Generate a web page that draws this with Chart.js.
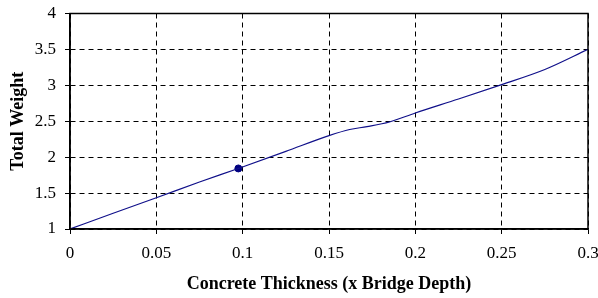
<!DOCTYPE html>
<html>
<head>
<meta charset="utf-8">
<script src="https://cdn.jsdelivr.net/npm/chart.js@4"></script>
<style>
  html, body { margin: 0; padding: 0; background: #fff; }
  #wrap { width: 598px; height: 298px; }
</style>
</head>
<body>
<div id="wrap"><canvas id="chart"></canvas></div>
<script>
// concrete thickness (x bridge depth) vs total weight
var thickness = [0, 0.025, 0.05, 0.075, 0.0975, 0.125, 0.15, 0.162, 0.172, 0.185, 0.2, 0.225, 0.25, 0.275, 0.3];
var weight = [1.0, 1.22, 1.435, 1.655, 1.843, 2.08, 2.30, 2.385, 2.425, 2.49, 2.615, 2.81, 3.01, 3.22, 3.5];

// highlighted point
var markX = [0.0975];
var markY = [1.843];

var xTicks = [0, 0.05, 0.1, 0.15, 0.2, 0.25, 0.3];
var yTicks = [1, 1.5, 2, 2.5, 3, 3.5, 4];

var serif = "'Liberation Serif', 'Times New Roman', serif";

var boxPlugin = {
    id: 'box',
    afterDraw: function(chart) {
        let a = chart.chartArea;
        let ctx = chart.ctx;
        ctx.save();
        ctx.strokeStyle = '#000';
        ctx.lineWidth = 1.5;
        ctx.strokeRect(a.left, a.top, a.right - a.left, a.bottom - a.top);
        ctx.restore();
    }
};

var ctx = document.getElementById('chart').getContext('2d');

new Chart(ctx, {
    type: 'line',
    data: {
        datasets: [
            {
                data: thickness.map((x, i) => ({ x: x, y: weight[i] })),
                borderColor: '#10108a',
                borderWidth: 1.2,
                pointRadius: 0,
                cubicInterpolationMode: 'monotone',
                fill: false
            },
            {
                data: markX.map((x, i) => ({ x: x, y: markY[i] })),
                showLine: false,
                pointRadius: 3.5,
                pointBackgroundColor: '#000080',
                pointBorderColor: '#000080'
            }
        ]
    },
    options: {
        responsive: true,
        maintainAspectRatio: false,
        animation: false,
        plugins: { legend: { display: false }, tooltip: { enabled: false } },
        layout: { padding: { top: 13.5, right: 10, left: 0, bottom: 0 } },
        scales: {
            x: {
                type: 'linear',
                min: 0,
                max: 0.3,
                afterBuildTicks: s => { s.ticks = xTicks.map(v => ({ value: v })); },
                afterFit: s => { s.height = 69; s.paddingLeft = 0; s.paddingRight = 0; },
                grid: {
                    color: '#000',
                    lineWidth: 1,
                    tickLength: 5,
                    tickColor: '#000',
                    tickBorderDash: []
                },
                border: { display: true, color: '#000', width: 1.5, dash: [5, 4] },
                ticks: {
                    color: '#000',
                    padding: 9,
                    maxRotation: 0,
                    font: { family: serif, size: 17 },
                    callback: v => String(v)
                },
                title: {
                    display: true,
                    text: 'Concrete Thickness (x Bridge Depth)',
                    color: '#000',
                    padding: { top: 0, bottom: 3 },
                    font: { family: serif, size: 18, weight: 'bold' }
                }
            },
            y: {
                min: 1,
                max: 4,
                afterBuildTicks: s => { s.ticks = yTicks.map(v => ({ value: v })); },
                afterFit: s => { s.width = 70; s.paddingTop = 0; s.paddingBottom = 0; },
                grid: {
                    color: '#000',
                    lineWidth: 1,
                    tickLength: 5,
                    tickColor: '#000',
                    tickBorderDash: []
                },
                border: { display: true, color: '#000', width: 1.5, dash: [5, 4] },
                ticks: {
                    color: '#000',
                    padding: 9,
                    font: { family: serif, size: 17 },
                    callback: v => String(v)
                },
                title: {
                    display: true,
                    text: 'Total Weight',
                    color: '#000',
                    padding: { top: 8, bottom: 0 },
                    font: { family: serif, size: 18, weight: 'bold' }
                }
            }
        }
    },
    plugins: [boxPlugin]
});
</script>
</body>
</html>
